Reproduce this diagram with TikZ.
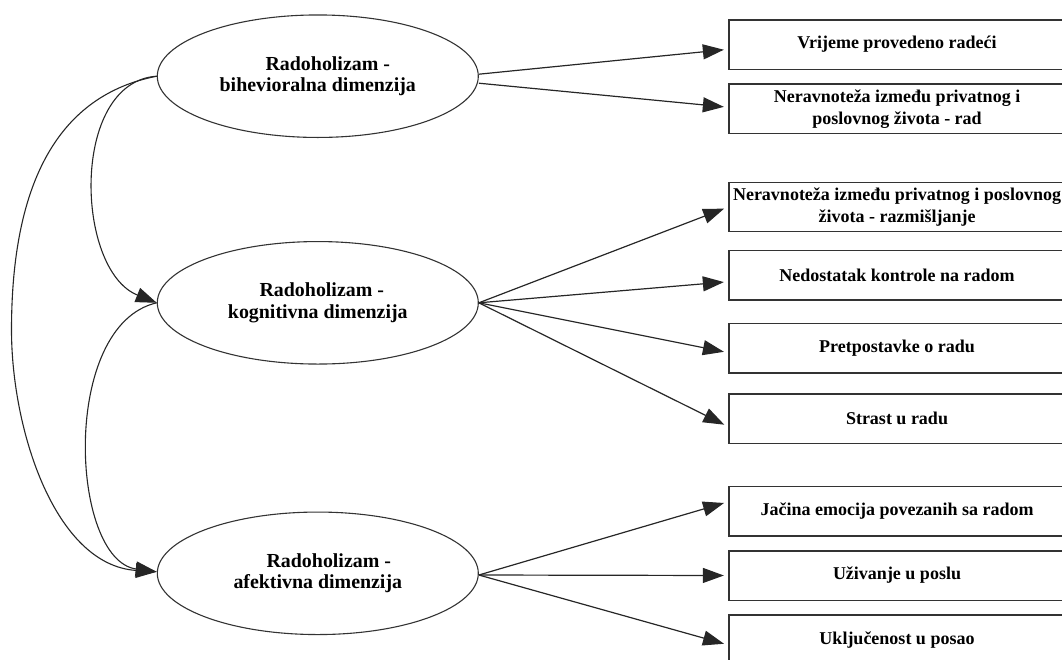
\documentclass[tikz,border=0pt]{standalone}
\usepackage{fontspec}
\setmainfont{Liberation Serif}
\usetikzlibrary{shapes.geometric,arrows.meta}

\begin{document}
\begin{tikzpicture}[x=1pt,y=-1pt,
  latent/.style={ellipse,draw=black!80,line width=1.1pt,minimum width=321pt,minimum height=122.5pt,inner sep=0pt,align=center,font=\fontsize{19.9}{21.5}\selectfont\bfseries},
  itembox/.style={rectangle,draw=black!80,line width=1.3pt,minimum width=336pt,minimum height=49.3pt,inner sep=0pt,align=center,font=\fontsize{18}{22}\selectfont\bfseries},
  loading/.style={draw=black!85,line width=1.2pt,-{Triangle[length=21pt,width=15pt]},shorten >=4.5pt},
  cov/.style={draw=black!85,line width=1.1pt,-{Triangle[length=21pt,width=15pt]}}]
  \clip (0,0) rectangle (1062,659);
  % dimenzije radoholizma
  \node[latent] (beh) at (317.8,76.2) {\hspace*{20pt}Radoholizam -\\bihevioralna dimenzija};
  \node[latent] (kog) at (317.8,302.8) {\hspace*{8pt}Radoholizam -\\kognitivna dimenzija};
  \node[latent] (afe) at (317.8,573.3) {\hspace*{22pt}Radoholizam -\\afektivna dimenzija};
  % indikatori
  \node[itembox] (vrijeme) at (897,44.5) {Vrijeme provedeno radeći};
  \node[itembox] (nerRad) at (897,108.7) {Neravnoteža između privatnog i\\poslovnog života - rad};
  \node[itembox] (nerRaz) at (897,207) {Neravnoteža između privatnog i poslovnog\\života - razmišljanje};
  \node[itembox] (kontrola) at (897,275.3) {Nedostatak kontrole na radom};
  \node[itembox] (pretp) at (897,348.3) {Pretpostavke o radu};
  \node[itembox] (strast) at (897,418.7) {Strast u radu};
  \node[itembox] (emocije) at (897,511.3) {Jačina emocija povezanih sa radom};
  \node[itembox] (uzivanje) at (897,575.5) {Uživanje u poslu};
  \node[itembox] (ukljuc) at (897,639.7) {Uključenost u posao};
  % opterecenja
  \draw[loading] ([yshift=2pt]beh.east) -- ([yshift=-4.8pt]vrijeme.west);
  \draw[loading] ([yshift=-7pt]beh.east) -- ([yshift=1.4pt]nerRad.west);
  \draw[loading] (kog.east) -- (nerRaz.west);
  \draw[loading] (kog.east) -- ([yshift=-6.4pt]kontrola.west);
  \draw[loading] (kog.east) -- ([yshift=-4.4pt]pretp.west);
  \draw[loading] (kog.east) -- ([yshift=-8pt]strast.west);
  \draw[loading] ([yshift=-1.7pt]afe.east) -- ([yshift=9.6pt]emocije.west);
  \draw[loading] ([yshift=-1.7pt]afe.east) -- (uzivanje.west);
  \draw[loading] ([yshift=-1.7pt]afe.east) -- ([yshift=-5.3pt]ukljuc.west);
  % veze izmedu dimenzija
  \draw[cov] (beh.west) .. controls (70,82) and (75,270) .. (kog.west);
  \draw[cov] (beh.west) .. controls (60,95) and (11.5,180) .. (11.5,330)
    .. controls (11.5,430) and (55,565) .. ([yshift=1.5pt]afe.west);
  \draw[cov] (kog.west) .. controls (60,325) and (70,560) .. ([yshift=1.5pt]afe.west);
\end{tikzpicture}
\end{document}
